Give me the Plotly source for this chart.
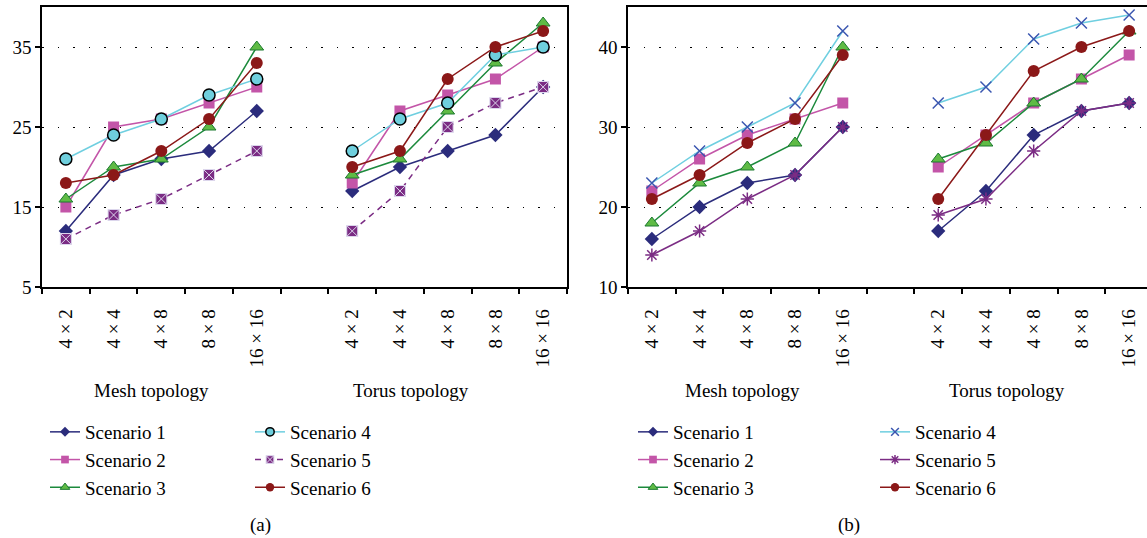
import plotly.graph_objects as go

# ---------------- data ----------------
categories = ["4 × 2", "4 × 4", "4 × 8", "8 × 8", "16 × 16"]
groups = ["Mesh topology", "Torus topology"]
scenarios = ["Scenario 1", "Scenario 2", "Scenario 3", "Scenario 4", "Scenario 5", "Scenario 6"]

# panel (a): mesh values then torus values
a_s1_mesh = [12, 19, 21, 22, 27]
a_s1_torus = [17, 20, 22, 24, 30]
a_s2_mesh = [15, 25, 26, 28, 30]
a_s2_torus = [18, 27, 29, 31, 35]
a_s3_mesh = [16, 20, 21, 25, 35]
a_s3_torus = [19, 21, 27, 33, 38]
a_s4_mesh = [21, 24, 26, 29, 31]
a_s4_torus = [22, 26, 28, 34, 35]
a_s5_mesh = [11, 14, 16, 19, 22]
a_s5_torus = [12, 17, 25, 28, 30]
a_s6_mesh = [18, 19, 22, 26, 33]
a_s6_torus = [20, 22, 31, 35, 37]

# panel (b)
b_s1_mesh = [16, 20, 23, 24, 30]
b_s1_torus = [17, 22, 29, 32, 33]
b_s2_mesh = [22, 26, 29, 31, 33]
b_s2_torus = [25, 29, 33, 36, 39]
b_s3_mesh = [18, 23, 25, 28, 40]
b_s3_torus = [26, 28, 33, 36, 42]
b_s4_mesh = [23, 27, 30, 33, 42]
b_s4_torus = [33, 35, 41, 43, 44]
b_s5_mesh = [14, 17, 21, 24, 30]
b_s5_torus = [19, 21, 27, 32, 33]
b_s6_mesh = [21, 24, 28, 31, 39]
b_s6_torus = [21, 29, 37, 40, 42]

a_ticks = [5, 15, 25, 35]
b_ticks = [10, 20, 30, 40]

# ---------------- helpers ----------------
n = len(categories)
x_pos = list(range(n)) + [None] + list(range(n + 1, 2 * n + 1))
tick_pos = list(range(n)) + list(range(n + 1, 2 * n + 1))
tick_txt = categories * 2


def series(mesh, torus):
    return mesh + [None] + torus


FONT = "Liberation Serif"
FW, FH = 1147, 549
REF_H = 538


def px(x):
    return x / FW


def py(y):
    return 1 - y / REF_H


NAVY, PINK, GREEN, CYAN, PURPLE, RED = "#2B2C7C", "#C355A8", "#1C8A3C", "#6FCFE0", "#7B2C84", "#8B1818"


def styles(panel, big=True):
    k = 1.0 if big else 0.7
    s4 = (dict(symbol="circle", size=12 * k, color="#6FCFDD", line=dict(color="black", width=1.5))
          if panel == "a" else
          dict(symbol="x-thin", size=11 * k, color="#3A56B0", line=dict(color="#3A56B0", width=1.5)))
    s5 = (dict(symbol="square-x", size=11 * k, color=PURPLE, line=dict(color="#DCD6EC", width=1))
          if panel == "a" else
          dict(symbol="asterisk", size=11 * k, color=PURPLE, line=dict(color=PURPLE, width=1.5)))
    return [
        dict(line=dict(color=NAVY, width=1.5), marker=dict(symbol="diamond", size=11 * k, color=NAVY)),
        dict(line=dict(color=PINK, width=1.5), marker=dict(symbol="square", size=11 * k, color=PINK)),
        dict(line=dict(color=GREEN, width=1.5),
             marker=dict(symbol="triangle-up", size=12 * k, color="#5FBB45", line=dict(color="#1C7A30", width=1))),
        dict(line=dict(color=CYAN, width=1.5), marker=s4),
        dict(line=dict(color=PURPLE, width=1.5, dash=("6px,5px" if panel == "a" else "solid")), marker=s5),
        dict(line=dict(color=RED, width=1.5), marker=dict(symbol="circle", size=12 * k, color=RED)),
    ]


data_a = [(a_s1_mesh, a_s1_torus), (a_s2_mesh, a_s2_torus), (a_s3_mesh, a_s3_torus),
          (a_s4_mesh, a_s4_torus), (a_s5_mesh, a_s5_torus), (a_s6_mesh, a_s6_torus)]
data_b = [(b_s1_mesh, b_s1_torus), (b_s2_mesh, b_s2_torus), (b_s3_mesh, b_s3_torus),
          (b_s4_mesh, b_s4_torus), (b_s5_mesh, b_s5_torus), (b_s6_mesh, b_s6_torus)]

fig = go.Figure()
for panel, data, xa, ya, legs in [("a", data_a, "x", "y", ("legend", "legend2")),
                                  ("b", data_b, "x2", "y2", ("legend3", "legend4"))]:
    big = styles(panel, True)
    small = styles(panel, False)
    for i, (name, (m, t)) in enumerate(zip(scenarios, data)):
        fig.add_trace(go.Scatter(x=x_pos, y=series(m, t), mode="lines+markers", name=name,
                                 xaxis=xa, yaxis=ya, showlegend=False, cliponaxis=False, **big[i]))
        # legend entry with smaller marker
        fig.add_trace(go.Scatter(x=[None], y=[None], mode="lines+markers", name=name,
                                 xaxis=xa, yaxis=ya, legend=legs[0] if i < 3 else legs[1], **small[i]))

xcommon = dict(
    tickmode="array", tickvals=tick_pos, ticktext=tick_txt, ticklabeloverflow="allow",
    ticks="", tickangle=-90, ticklabelstandoff=13, showline=True, linecolor="black", linewidth=1.5,
    showgrid=False, zeroline=False, tickfont=dict(family=FONT, size=19, color="black"),
    minor=dict(tickmode="linear", tick0=-0.5, dtick=1, ticks="outside", ticklen=5,
               tickcolor="black", tickwidth=1.5, showgrid=False),
)
ycommon = dict(
    tickmode="array", ticks="outside", ticklen=5, tickcolor="black", tickwidth=1.5,
    showline=True, linecolor="black", linewidth=1.5, zeroline=False,
    showgrid=True, gridcolor="black", gridwidth=1, griddash="1.5px,14px",
    tickfont=dict(family=FONT, size=19, color="black"),
)

legend_common = dict(font=dict(family=FONT, size=19, color="black"), bgcolor="rgba(0,0,0,0)",
                     xanchor="left", yanchor="top", orientation="v", tracegroupgap=0)

left_l, left_r, right_l = 42, 567, 628
cat_w = (left_r - left_l) / (2 * n + 1)
right_hi = -0.5 + (FW - right_l) / cat_w

fig.update_layout(
    width=FW, height=FH, margin=dict(l=0, r=0, t=0, b=0),
    paper_bgcolor="white", plot_bgcolor="white",
    xaxis=dict(domain=[px(left_l), px(left_r)], anchor="y", range=[-0.5, 2 * n + 0.5], mirror=True, **xcommon),
    yaxis=dict(domain=[py(287), py(7)], anchor="x", range=[5, 40], tickvals=a_ticks, mirror=True, **ycommon),
    xaxis2=dict(domain=[px(right_l), 1.0], anchor="y2", range=[-0.5, right_hi], mirror=True, **xcommon),
    yaxis2=dict(domain=[py(287), py(7)], anchor="x2", range=[10, 45], tickvals=b_ticks, mirror=False, **ycommon),
    legend=dict(x=px(45), y=py(413), **legend_common),
    legend2=dict(x=px(250), y=py(413), **legend_common),
    legend3=dict(x=px(633), y=py(413), **legend_common),
    legend4=dict(x=px(875), y=py(413), **legend_common),
    showlegend=True,
)

annots = [
    (151, 390, groups[0]), (411, 390, groups[1]), (260, 525, "(a)"),
    (742, 390, groups[0]), (1007, 390, groups[1]), (849, 525, "(b)"),
]
for x, y, t in annots:
    fig.add_annotation(x=px(x), y=py(y), xref="paper", yref="paper", text=t, showarrow=False,
                       xanchor="center", yanchor="middle", font=dict(family=FONT, size=19, color="black"))

fig.write_html("out.html", config={"displayModeBar": False},
               post_script="document.documentElement.style.overflow='hidden';"
                           "document.body.style.margin='0';document.body.style.overflow='hidden';")
